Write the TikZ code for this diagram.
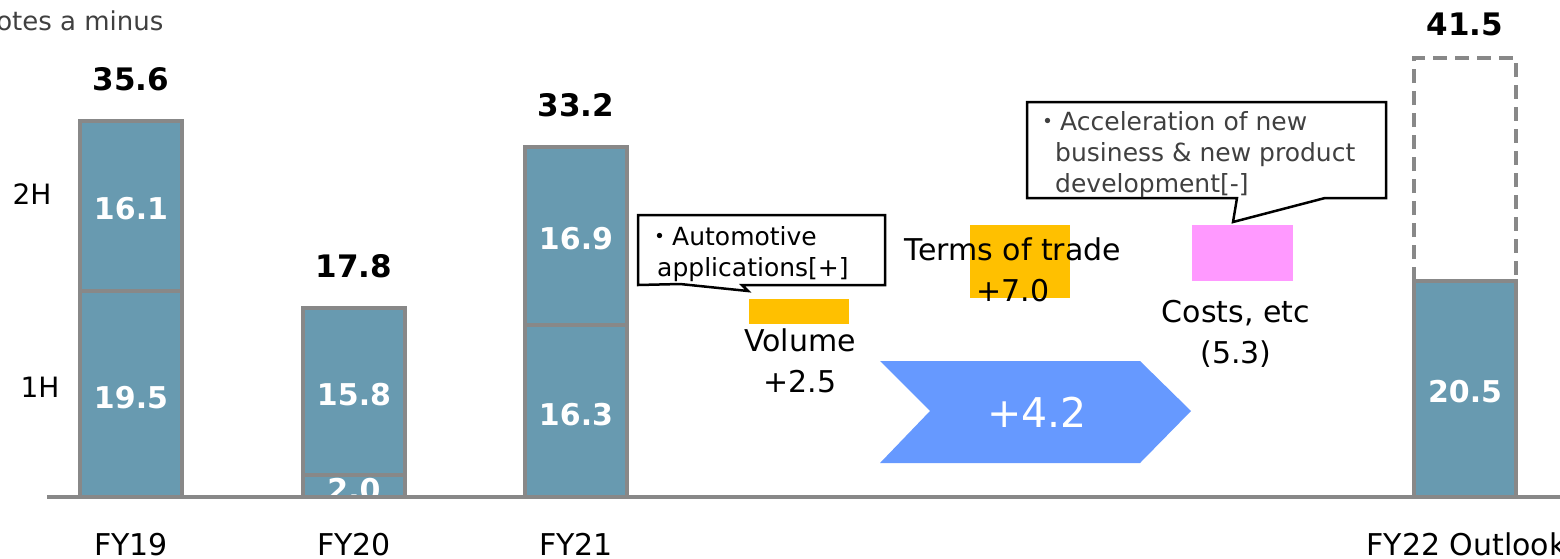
\documentclass[tikz,border=0pt]{standalone}
\usepackage{fontspec}
\setmainfont{DejaVu Sans}
\newfontfamily\cjk{Noto Sans CJK JP}
\usepackage{xcolor}
\usetikzlibrary{positioning}
\definecolor{barblue}{RGB}{104,154,176}
\definecolor{bargray}{RGB}{136,136,136}
\definecolor{chevblue}{RGB}{102,153,255}
\definecolor{tradeyellow}{RGB}{255,192,0}
\definecolor{costpink}{RGB}{255,153,255}
\definecolor{notegray}{RGB}{64,64,64}
\tikzset{bar/.style={draw=bargray,line width=4pt,fill=barblue},
 divider/.style={draw=bargray,line width=4pt},
 dashbar/.style={draw=bargray,line width=4pt,dash pattern=on 14pt off 8pt},
 axis/.style={draw=bargray,line width=4pt},
 inval/.style={text=white,font=\fontsize{30}{36}\selectfont\bfseries},
 total/.style={font=\fontsize{31}{36}\selectfont\bfseries},
 cat/.style={anchor=base,font=\fontsize{30}{36}\selectfont},
 half/.style={font=\fontsize{28}{34}\selectfont},
 factor/.style={align=center,font=\fontsize{30}{41}\selectfont},
 callout/.style={draw=black,fill=white,line width=2.5pt,line join=miter},
 calltext/.style={align=left,anchor=north west,inner sep=0pt,font=\fontsize{25}{31}\selectfont},
 }

\begin{document}
\begin{tikzpicture}[x=1pt,y=-1pt]
\useasboundingbox (0,0) rectangle (1560,558);

\node[anchor=east,text=notegray,font=\fontsize{26}{30}\selectfont] (minusnote) at (167,22) {( ) denotes a minus};

% stacked bars: 1H below, 2H on top
\foreach \x/\t/\m/\up/\lo/\tot/\yr in {131/121/291/16.1/19.5/35.6/19,
  354/308/475/15.8/2.0/17.8/20, 576/147/325/16.9/16.3/33.2/21} {
  \draw[bar] (\x-51,497) rectangle (\x+51,\t);
  \draw[divider] (\x-51,\m) -- (\x+51,\m);
  \node[inval] (up\yr) at (\x,{(\t+\m)/2+3}) {\up};
  \begin{scope}
    \clip (\x-49,\m) rectangle (\x+49,495);
    \node[inval] (lo\yr) at (\x,{(\m+497)/2+4}) {\lo};
  \end{scope}
  \node[total] (tot\yr) at (\x,\t-42) {\tot};
  \node[cat] (cat\yr) at (\x,555) {FY\yr};
}

% outlook bar, 2H still open
\draw[bar] (1414,497) rectangle (1516,281);
\draw[dashbar] (1414,281) -- (1414,58) -- (1516,58) -- (1516,281);
\node[inval] (lo22) at (1465,392) {20.5};
\node[total] (tot22) at (1465,24) {41.5};
\node[cat,anchor=base west] (cat22) at (1363,555) {FY22 Outlook};

\node[half] (h2) at (32,194) {2H};
\node[half] (h1) at (40,387) {1H};

\draw[axis] (47,497) -- (1560,497);

% factor boxes
\fill[tradeyellow] (749,299) rectangle (849,324);
\fill[tradeyellow] (970,225) rectangle (1070,298);
\fill[costpink] (1192,225) rectangle (1293,281);

\node[factor] (volume) at (800,361) {Volume\\+2.5};
\node[factor] (trade) at (1013,270) {Terms of trade\\+7.0};
\node[factor] (costs) at (1236,334) {Costs, etc\\(5.3)};

% net change
\fill[chevblue] (880,361) -- (1140,361) -- (1191,411) -- (1140,463)
  -- (880,463) -- (930,411) -- cycle;
\node[text=white,font=\fontsize{41}{48}\selectfont] (net) at (1037,412) {+4.2};

% callouts
\draw[callout] (638,215) -- (885,215) -- (885,285) -- (742,285) -- (748,291)
  -- (680,284) -- (638,285) -- cycle;
\node[calltext] (autonote) at (647,226) {{\cjk ・}Automotive\\\hspace{10pt}applications[+]};
\draw[callout] (1027,102) -- (1386,102) -- (1386,198) -- (1325,198) -- (1233,222)
  -- (1237,198) -- (1027,198) -- cycle;
\node[calltext,text=notegray] (costnote) at (1035,111) {{\cjk ・}Acceleration of new\\\hspace{20pt}business \& new product\\\hspace{20pt}development[-]};
\end{tikzpicture}
\end{document}
